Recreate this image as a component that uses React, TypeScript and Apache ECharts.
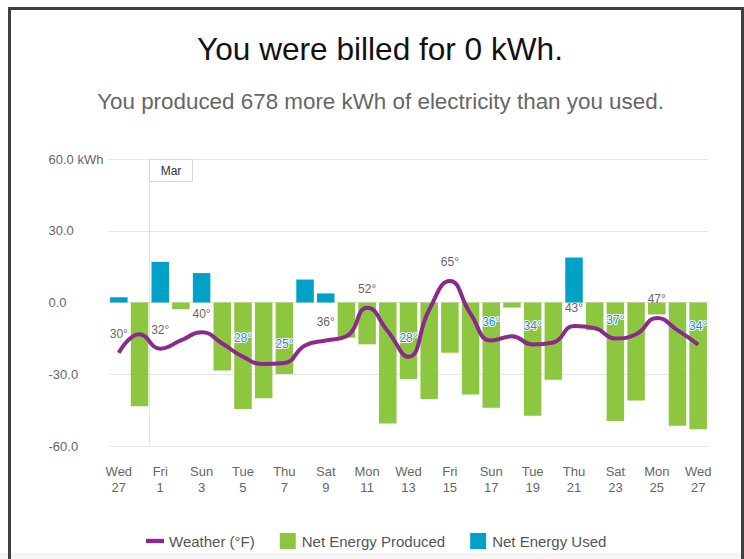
import React, { useEffect, useRef } from 'react';
import * as echarts from 'echarts';

const dayNames = ['Wed','Thu','Fri','Sat','Sun','Mon','Tue','Wed','Thu','Fri','Sat','Sun','Mon','Tue','Wed','Thu','Fri','Sat','Sun','Mon','Tue','Wed','Thu','Fri','Sat','Sun','Mon','Tue','Wed'];
const dayNums = [27,28,1,2,3,4,5,6,7,8,9,10,11,12,13,14,15,16,17,18,19,20,21,22,23,24,25,26,27];
const monthLabels = ['Mar'];

// Net energy produced (negative kWh), null when the day was a net user
const netProduced = [null,-43.4,null,-2.8,null,-28.4,-44.5,-40,-29.9,null,null,-14.7,-17.5,-50.6,-32,-40.3,-21,-38.5,-44,-2.1,-47.3,-32.3,null,-11.6,-49.5,-41,-5,-51.5,-53];
// Net energy used (positive kWh)
const netUsed = [2.2,null,17,null,12.3,null,null,null,null,9.6,3.8,null,null,null,null,null,null,null,null,null,null,null,18.8,null,null,null,null,null,null];
// Daily temperature (°F)
const temps = [30,39,32,36,40,34.5,28,24.5,25,33.5,36,38,52,40.5,28,51,65,49,36,38,34,35,43,42,37,39,47,41,34];
// Temperature labels drawn over a green bar use the contrast style
const contrastLabelIdx = [6,8,14,18,20,24,28];

const yTickValues = [-60,-30,0,30,60];
const yTickLabels = ['-60.0','-30.0','0.0','30.0','60.0 kWh'];

const titleText = 'You were billed for 0 kWh.';
const subtitleText = 'You produced 678 more kWh of electricity than you used.';

const FONT = '"Liberation Sans", Arial, Helvetica, sans-serif';
const GREEN = '#8dc63f';
const BLUE = '#00a1c6';
const PURPLE = '#8b2a8d';

export default function App() {
  const ref = useRef<HTMLDivElement>(null);
  useEffect(() => {
    if (!ref.current) return;
    const chart = echarts.init(ref.current, undefined, { renderer: 'svg' });
    const categories = dayNames.map((d, i) => d + '\n' + dayNums[i]);
    const tempData = temps.map((t, i) => {
      const show = i % 2 === 0;
      const contrast = contrastLabelIdx.indexOf(i) >= 0;
      return {
        value: t,
        label: {
          show,
          color: contrast ? '#2a86d8' : '#666',
          textBorderColor: contrast ? '#fff' : 'transparent',
          textBorderWidth: contrast ? 2 : 0,
        },
      };
    });
    chart.setOption({
      animation: false,
      textStyle: { fontFamily: FONT },
      grid: { left: 108.5, right: 35.5, top: 159, height: 287, containLabel: false },
      xAxis: {
        type: 'category',
        data: categories,
        boundaryGap: true,
        axisTick: { show: false },
        axisLine: { show: true, lineStyle: { color: '#e3e3e3', width: 1 } },
        splitLine: { show: false },
        axisLabel: {
          interval: 1,
          color: '#666',
          fontSize: 13,
          lineHeight: 16,
          margin: 17,
          fontFamily: FONT,
        },
      },
      yAxis: [
        {
          type: 'value',
          min: -60,
          max: 60,
          interval: 30,
          axisLine: { show: false },
          axisTick: { show: false },
          splitLine: { lineStyle: { color: '#e6e6e6', width: 1 } },
          axisLabel: {
            align: 'left',
            margin: 60,
            color: '#666',
            fontSize: 13,
            fontFamily: FONT,
            formatter: (v: number) => {
              const k = yTickValues.indexOf(v);
              return k >= 0 ? yTickLabels[k] : '';
            },
          },
        },
        {
          type: 'value',
          min: -15.5,
          max: 124.5,
          show: false,
          splitLine: { show: false },
        },
      ],
      legend: {
        left: 141,
        top: 528,
        itemWidth: 18,
        itemHeight: 16,
        itemGap: 25,
        textStyle: { fontSize: 15, color: '#555', fontFamily: FONT },
        data: [
          { name: 'Weather (°F)', icon: 'path://M0,0H15V3.6H0Z' },
          { name: 'Net Energy Produced', icon: 'path://M0,0H16V16H0Z' },
          { name: 'Net Energy Used', icon: 'path://M0,0H16V16H0Z' },
        ],
      },
      series: [
        {
          name: 'Net Energy Produced',
          type: 'bar',
          data: netProduced,
          barWidth: 17.5,
          barGap: '-100%',
          itemStyle: { color: GREEN },
          z: 2,
        },
        {
          name: 'Net Energy Used',
          type: 'bar',
          data: netUsed,
          barWidth: 17.5,
          barGap: '-100%',
          itemStyle: { color: BLUE },
          z: 2,
        },
        {
          name: 'Weather (°F)',
          type: 'line',
          yAxisIndex: 1,
          data: tempData,
          smooth: 0.5,
          showSymbol: true,
          symbol: 'circle',
          symbolSize: 1,
          itemStyle: { color: PURPLE },
          lineStyle: { color: PURPLE, width: 4 },
          label: {
            position: 'top',
            distance: 12,
            fontSize: 12,
            fontFamily: FONT,
            formatter: (p: any) => p.value + '°',
          },
          z: 5,
        },
      ],
    });

    // month separator between last day of Feb and first of Mar
    const firstIdx = dayNums.indexOf(1);
    const xa = chart.convertToPixel({ xAxisIndex: 0 }, firstIdx - 1) as number;
    const xb = chart.convertToPixel({ xAxisIndex: 0 }, firstIdx) as number;
    const sepX = Math.round((xa + xb) / 2) - 0.5;
    const yTop = chart.convertToPixel({ yAxisIndex: 0 }, 60) as number;
    const yBot = chart.convertToPixel({ yAxisIndex: 0 }, -60) as number;

    chart.setOption({
      graphic: [
        { type: 'rect', shape: { x: 0, y: 553, width: 744, height: 6 }, style: { fill: '#f5f5f5' }, silent: true },
        { type: 'rect', shape: { x: 8, y: 7, width: 3, height: 552 }, style: { fill: '#3f3f3f' }, silent: true },
        { type: 'rect', shape: { x: 8, y: 7, width: 736, height: 3 }, style: { fill: '#3f3f3f' }, silent: true },
        { type: 'rect', shape: { x: 741, y: 7, width: 3, height: 552 }, style: { fill: '#3f3f3f' }, silent: true },
        {
          type: 'text', x: 380, y: 49,
          style: { text: titleText, font: '31.6px ' + FONT, fill: '#111', textAlign: 'center', textVerticalAlign: 'middle', align: 'center', verticalAlign: 'middle' },
        },
        {
          type: 'text', x: 380.5, y: 101,
          style: { text: subtitleText, font: '22.4px ' + FONT, fill: '#666', textAlign: 'center', textVerticalAlign: 'middle', align: 'center', verticalAlign: 'middle' },
        },
        {
          type: 'line', z: 1,
          shape: { x1: sepX, y1: yTop, x2: sepX, y2: yBot },
          style: { stroke: '#e3e3e3', lineWidth: 1 }, silent: true,
        },
        {
          type: 'rect', z: 10,
          shape: { x: sepX, y: yTop + 0.5, width: 43, height: 22 },
          style: { fill: '#fff', stroke: '#d8d8d8', lineWidth: 1 }, silent: true,
        },
        {
          type: 'text', z: 11, x: sepX + 21.5, y: yTop + 11.5,
          style: { text: monthLabels[0], font: '12px ' + FONT, fill: '#333', textAlign: 'center', textVerticalAlign: 'middle', align: 'center', verticalAlign: 'middle' },
        },
      ],
    });
    return () => chart.dispose();
  }, []);
  return <div ref={ref} style={{ position: 'absolute', left: 0, top: 0, width: 744, height: 559 }} />;
}
